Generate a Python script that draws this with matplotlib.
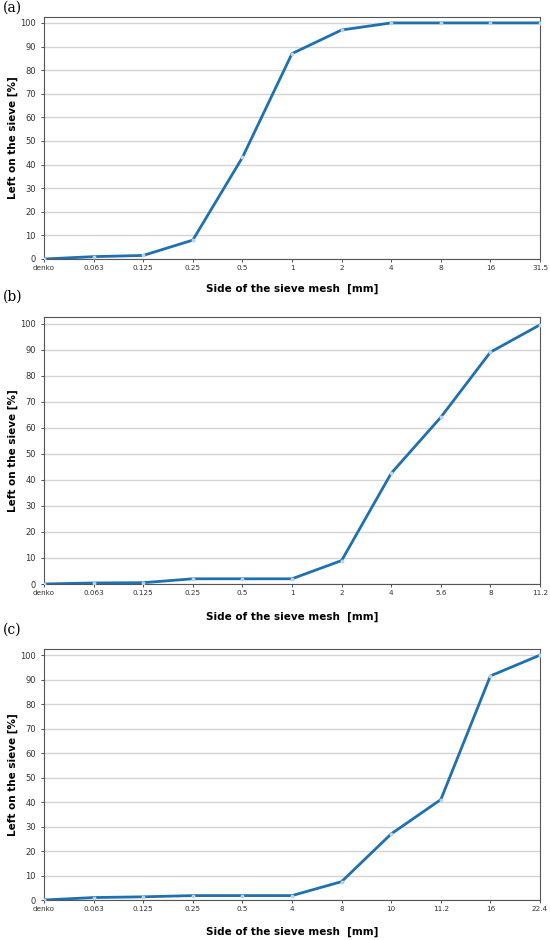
import matplotlib
matplotlib.use("Agg")
from matplotlib import pyplot as plt

# sieve sizes and percentage left on the sieve, one set per panel
sizes_a = ["denko", "0.063", "0.125", "0.25", "0.5", "1", "2", "4", "8", "16", "31.5"]
left_a = [0, 1, 1.5, 8, 43, 87, 97, 100, 100, 100, 100]

sizes_b = ["denko", "0.063", "0.125", "0.25", "0.5", "1", "2", "4", "5.6", "8", "11.2"]
left_b = [0, 0.4, 0.5, 2, 2, 2, 9, 42.5, 64, 89, 99.5]

sizes_c = ["denko", "0.063", "0.125", "0.25", "0.5", "4", "8", "10", "11.2", "16", "22.4"]
left_c = [0, 1, 1.3, 1.8, 1.8, 1.8, 7.5, 27, 41, 91.5, 100]

panels = ["(a)", "(b)", "(c)"]

W, H = 550, 940
fig = plt.figure(figsize=(W / 100, H / 100), dpi=100)

# axes boxes in pixels: left, top, right, bottom
boxes = [(44, 17, 540, 259), (44, 317, 540, 584), (44, 649, 540, 900)]
label_y = [8, 297, 630]
xlabel_y = [289, 617, 932]

for i, (sizes, left) in enumerate([(sizes_a, left_a), (sizes_b, left_b), (sizes_c, left_c)]):
    l, t, r, b = boxes[i]
    ax = fig.add_axes([l / W, 1 - b / H, (r - l) / W, (b - t) / H])
    x = list(range(len(sizes)))
    ax.plot(x, left, color="#1f70b0", linewidth=2, marker="o", markersize=1.8,
            markerfacecolor="#b8d4ec", markeredgecolor="#b8d4ec", zorder=3)
    ax.set_xlim(0, len(sizes) - 1)
    ax.set_ylim(0, 102.5)
    ax.set_yticks(range(0, 101, 10))
    ax.set_xticks(x)
    ax.set_xticklabels(sizes, fontsize=5.2, color="#333333")
    ax.tick_params(axis="y", labelsize=6, colors="#333333", length=2.5, width=0.6)
    ax.tick_params(axis="x", length=2.5, width=0.6, pad=1.5, colors="#333333")
    ax.grid(axis="y", color="#d4d4d4", linewidth=1.0)
    ax.set_axisbelow(True)
    for s in ax.spines.values():
        s.set_color("#555555")
        s.set_linewidth(0.8)
    ax.set_ylabel("Left on the sieve [%]", fontsize=7.5, fontweight="bold")
    ax.yaxis.set_label_coords((18 - l) / (r - l), 0.5)
    fig.text((l + r) / 2 / W, 1 - xlabel_y[i] / H, "Side of the sieve mesh  [mm]",
             fontsize=7.5, fontweight="bold", ha="center", va="center")
    fig.text(3 / W, 1 - label_y[i] / H, panels[i], fontsize=10, family="DejaVu Serif",
             ha="left", va="center")

fig.savefig("out.png", dpi=100)
